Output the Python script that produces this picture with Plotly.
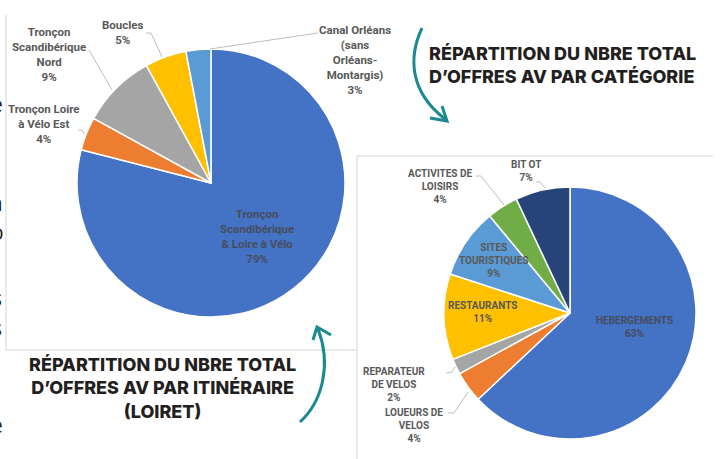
import plotly.graph_objects as go

W, H = 723, 459

# ---- data ----
itin_labels = ["Tronçon<br>Scandibérique<br>& Loire à Vélo", "Tronçon Loire<br>à Vélo Est",
               "Tronçon<br>Scandibérique<br>Nord", "Boucles",
               "Canal Orléans<br>(sans<br>Orléans-<br>Montargis)"]
itin_values = [79, 4, 9, 5, 3]
itin_colors = ["#4472C4", "#ED7D31", "#A5A5A5", "#FFC000", "#5B9BD5"]

cat_labels = ["HEBERGEMENTS", "LOUEURS DE<br>VELOS", "REPARATEUR<br>DE VELOS", "RESTAURANTS",
              "SITES<br>TOURISTIQUES", "ACTIVITES DE<br>LOISIRS", "BIT OT"]
cat_values = [63, 4, 2, 11, 9, 4, 7]
cat_colors = ["#4472C4", "#ED7D31", "#A5A5A5", "#FFC000", "#5B9BD5", "#70AD47", "#264478"]

title_itin = "RÉPARTITION DU NBRE TOTAL<br>D’OFFRES AV PAR ITINÉRAIRE<br>(LOIRET)"
title_cat = "RÉPARTITION DU NBRE TOTAL<br>D’OFFRES AV PAR CATÉGORIE"


def px(x):
    return x / W


def py(y):
    return 1 - y / H


fig = go.Figure()

# left pie: center (211,183) r 134
fig.add_trace(go.Pie(
    values=itin_values, labels=[l.replace("<br>", " ") for l in itin_labels],
    sort=False, direction="clockwise", rotation=0,
    marker=dict(colors=itin_colors, line=dict(color="white", width=1.5)),
    textinfo="none", hoverinfo="label+percent", showlegend=False,
    domain=dict(x=[px(211 - 134), px(211 + 134)], y=[py(183 + 134), py(183 - 134)]),
))
# right pie: center (570,313) r 126
fig.add_trace(go.Pie(
    values=cat_values, labels=[l.replace("<br>", " ") for l in cat_labels],
    sort=False, direction="clockwise", rotation=0,
    marker=dict(colors=cat_colors, line=dict(color="white", width=1.5)),
    textinfo="none", hoverinfo="label+percent", showlegend=False,
    domain=dict(x=[px(570 - 126), px(570 + 126)], y=[py(313 + 126), py(313 - 126)]),
))

ann = []
shapes = []

label_font_l = dict(family="Roboto", size=11.5, color="#595959", weight="bold")
label_font_r = dict(family="Roboto", size=10, color="#595959", weight="bold")

# left pie label centers (pixels)
itin_pos = [(257, 236), (44, 124), (49, 55), (123, 33), (355, 60)]
for i, (lab, v, (x, y)) in enumerate(zip(itin_labels, itin_values, itin_pos)):
    f = dict(label_font_l)
    if i == 0:
        f["color"] = "#474d5c"
    ann.append(dict(x=px(x), y=py(y), xref="paper", yref="paper", showarrow=False,
                    text=f"{lab}<br>{v}%", font=f, align="center",
                    xanchor="center", yanchor="middle"))

cat_pos = [(634, 327), (414, 425), (394, 384), (483, 312), (493, 260), (440, 186), (526, 171)]
for i, (lab, v, (x, y)) in enumerate(zip(cat_labels, cat_values, cat_pos)):
    f = dict(label_font_r)
    if i == 0:
        f["color"] = "#474d5c"
    ann.append(dict(x=px(x), y=py(y), xref="paper", yref="paper", showarrow=False,
                    text=f"{lab}<br>{v}%", font=f, align="center",
                    xanchor="center", yanchor="middle"))

# leader lines
leaders = [
    [(89, 50), (112, 90)],
    [(146, 33), (151, 33), (162, 57)],
    [(78, 130), (82, 130), (84, 134)],
    [(318, 33), (210, 49)],
    [(536, 182), (540, 182), (545, 188)],
    [(476, 176), (481, 176), (504, 205)],
    [(446, 373), (452, 372), (455, 367)],
    [(448, 413), (454, 413), (468, 392)],
]
for pts in leaders:
    d = "M " + " L ".join(f"{px(x)},{py(y)}" for x, y in pts)
    shapes.append(dict(type="path", path=d, xref="paper", yref="paper",
                       line=dict(color="#bfbfbf", width=1)))

# frames
frame_c = "#e3e3e3"
for (x0, y0, x1, y1) in [(6, 15, 6, 350), (6, 350, 357, 350), (357, 156, 357, 459), (357, 156, 713, 156)]:
    shapes.append(dict(type="line", x0=px(x0), y0=py(y0), x1=px(x1), y1=py(y1),
                       xref="paper", yref="paper", line=dict(color=frame_c, width=1.5)))

# titles
title_font = dict(family="Inter", size=18, color="#231f20", weight=800)
ann.append(dict(x=px(162), y=py(388), xref="paper", yref="paper", showarrow=False,
                text=title_itin, font=title_font, align="center",
                xanchor="center", yanchor="middle"))
ann.append(dict(x=px(427), y=py(65), xref="paper", yref="paper", showarrow=False,
                text=title_cat, font=title_font, align="left",
                xanchor="left", yanchor="middle"))

# curved arrows
teal = "#1b8a90"


def path(cmds):
    out = []
    for c in cmds:
        if isinstance(c, str):
            out.append(c)
        else:
            out.append(f"{px(c[0])},{py(c[1])}")
    return " ".join(out)


shapes.append(dict(type="path", xref="paper", yref="paper",
                   path=path(["M", (422, 28), "C", (408, 58), (410, 92), (445, 119)]),
                   line=dict(color=teal, width=3)))
shapes.append(dict(type="path", xref="paper", yref="paper",
                   path=path(["M", (430, 118), "L", (447, 121), "L", (442, 106)]),
                   line=dict(color=teal, width=3)))
shapes.append(dict(type="path", xref="paper", yref="paper",
                   path=path(["M", (300, 422), "C", (322, 402), (332, 365), (318, 329)]),
                   line=dict(color=teal, width=3)))
shapes.append(dict(type="path", xref="paper", yref="paper",
                   path=path(["M", (313, 340), "L", (317, 327), "L", (331, 335)]),
                   line=dict(color=teal, width=3)))

# clipped page text at left edge
edge_letters = [("é", 104), ("i", 137), ("a", 203), ("o", 232), ("s", 298), ("s", 328), ("e", 425)]
for ch, y in edge_letters:
    ann.append(dict(x=px(-3), y=py(y), xref="paper", yref="paper", showarrow=False,
                    text=ch, font=dict(family="Open Sans", size=21, color="#222222"),
                    xanchor="center", yanchor="middle"))

fig.update_layout(
    width=W, height=H, margin=dict(l=0, r=0, t=0, b=0),
    paper_bgcolor="white", plot_bgcolor="white",
    annotations=ann, shapes=shapes,
)

fig.write_html("out.html", config={"displayModeBar": False},
               post_script="document.body.style.margin='0';document.body.style.overflow='hidden';")
